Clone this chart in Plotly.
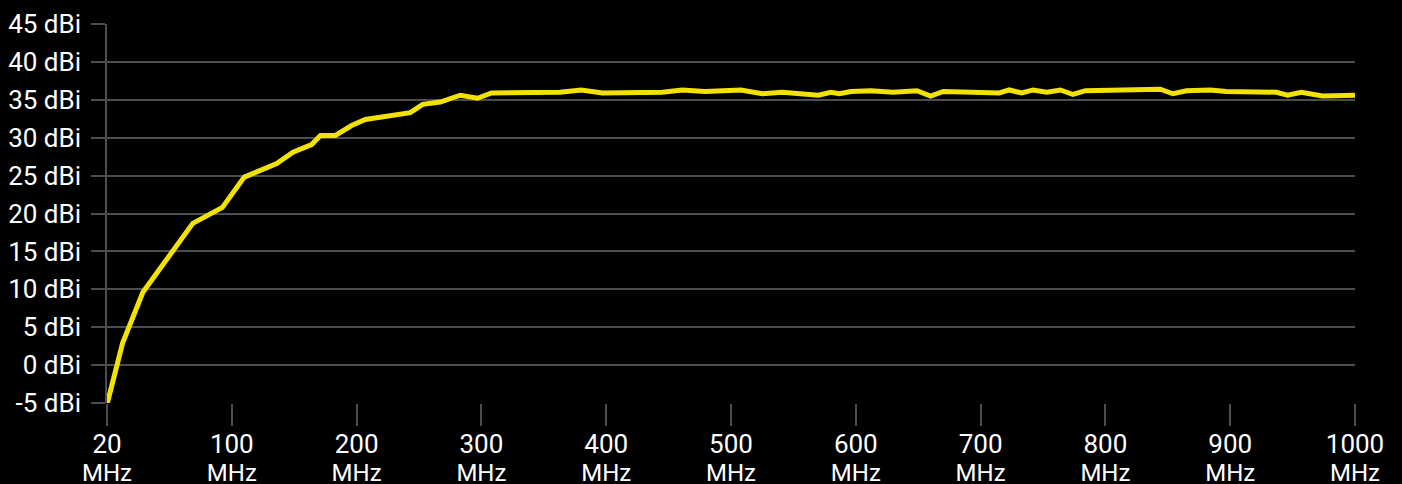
import numpy as np
import plotly.graph_objects as go

# Tick frequencies (MHz) and their labels (axis is evenly spaced per tick)
tick_freqs = [20, 100, 200, 300, 400, 500, 600, 700, 800, 900, 1000]
tick_numbers = [str(f) for f in tick_freqs]
tick_units = ["MHz"] * len(tick_freqs)

# Gain curve
freq_mhz = [20, 30, 43, 75, 94, 110, 136, 149, 164, 171, 183, 196, 207, 243, 253,
            267, 283, 297, 308, 331, 363, 380, 397, 445, 461, 479, 508, 525, 541,
            570, 580, 587, 596, 612, 630, 649, 660, 670, 715, 723, 733, 742, 753,
            764, 774, 784, 844, 854, 865, 884, 897, 937, 946, 957, 974, 1000]
gain_dbi = [-5.2, 2.9, 9.6, 18.7, 20.8, 24.8, 26.6, 28.1, 29.1, 30.3, 30.3, 31.6,
            32.4, 33.3, 34.4, 34.7, 35.6, 35.2, 35.9, 36.0, 36.0, 36.3, 35.9, 36.0,
            36.3, 36.1, 36.3, 35.8, 36.0, 35.6, 36.0, 35.8, 36.1, 36.2, 36.0, 36.2,
            35.5, 36.1, 35.9, 36.3, 35.9, 36.3, 36.0, 36.3, 35.7, 36.2, 36.4, 35.8,
            36.2, 36.3, 36.1, 36.0, 35.6, 36.0, 35.5, 35.6]

y_ticks = list(range(-5, 50, 5))
y_labels = [f"{v} dBi" for v in y_ticks]

# Evenly spaced tick axis: map frequencies onto tick index scale
tick_idx = list(range(len(tick_freqs)))
x_pos = np.interp(freq_mhz, tick_freqs, tick_idx)

grid = "#4d4d4d"
font = dict(family="Roboto", size=26, color="#ffffff")
unit_font = dict(family="Roboto", size=24, color="#ffffff")
xrange = [0, len(tick_freqs) - 1]

fig = go.Figure()
fig.add_trace(go.Scatter(
    x=x_pos, y=gain_dbi, mode="lines",
    line=dict(color="#f2e200", width=5),
    cliponaxis=False, hoverinfo="skip", showlegend=False,
))
# invisible helper trace on the unit-label axis
fig.add_trace(go.Scatter(
    x=[xrange[0]], y=[None], xaxis="x2", mode="lines",
    hoverinfo="skip", showlegend=False,
))

fig.update_layout(
    width=1402, height=484,
    paper_bgcolor="#000000", plot_bgcolor="#000000",
    margin=dict(l=107, r=47, t=24, b=81, autoexpand=False),
    font=font,
    xaxis=dict(
        range=xrange, automargin=False,
        tickmode="array", tickvals=tick_idx, ticktext=tick_numbers,
        showgrid=False, zeroline=False, showline=False,
        ticks="outside", ticklen=22, tickwidth=1.5, tickcolor=grid,
        ticklabelstandoff=-4, tickfont=font,
    ),
    xaxis2=dict(
        range=xrange, automargin=False, overlaying="x", side="bottom",
        tickmode="array", tickvals=tick_idx, ticktext=tick_units,
        showgrid=False, zeroline=False, showline=False, ticks="",
        ticklabelstandoff=53, tickfont=unit_font,
    ),
    yaxis=dict(
        range=[-5, 45], automargin=False,
        tickmode="array", tickvals=y_ticks, ticktext=y_labels,
        showgrid=True, gridcolor=grid, gridwidth=1.5,
        zeroline=False, showline=True, linecolor=grid, linewidth=1.5,
        ticks="outside", ticklen=14, tickwidth=1.5, tickcolor=grid,
        ticklabelstandoff=5, tickfont=font,
    ),
)

fig.write_html(
    "out.html",
    config={"displayModeBar": False},
    post_script="document.body.style.margin='0';document.body.style.background='#000';",
)
